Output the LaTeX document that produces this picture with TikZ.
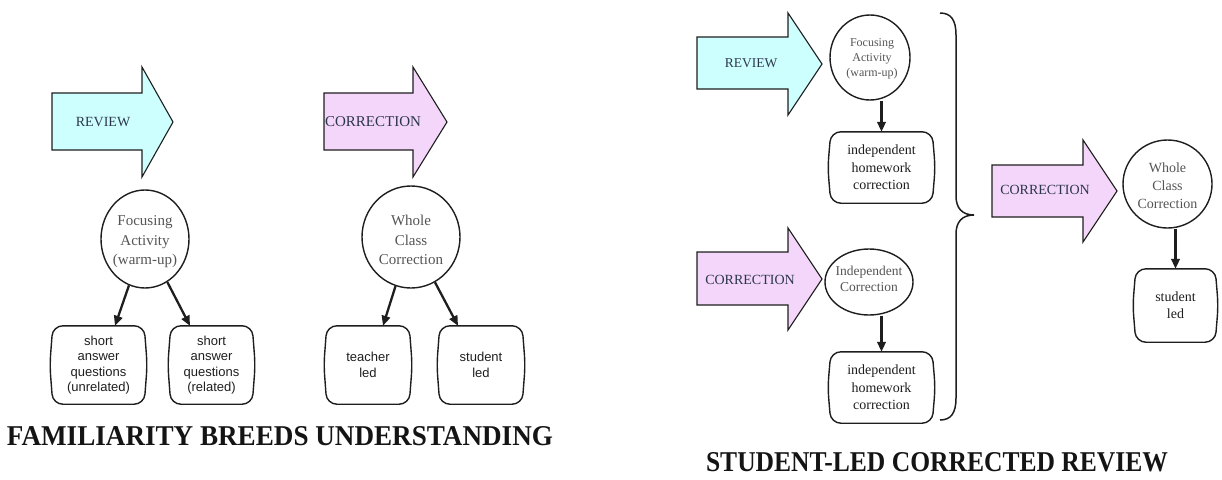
\documentclass[tikz,border=0pt]{standalone}
\usepackage{graphicx}
\usepackage{fontspec}
\setmainfont{Liberation Serif}
\newfontfamily\boxsans{Liberation Sans}
\newfontfamily\titlefont{Liberation Serif}
\usetikzlibrary{arrows.meta,shapes.geometric,calc}

\definecolor{revcyan}{RGB}{206,255,255}
\definecolor{corpink}{RGB}{243,214,250}
\definecolor{arrtext}{RGB}{45,55,75}
\definecolor{ink}{RGB}{30,30,30}
\definecolor{ctext}{RGB}{85,85,85}

\newcommand\blockarrow[8]{%
  \draw[bigarrow,fill=#8] (#1,#4) -- (#2,#4) -- (#2,#6) -- (#3,{(#6+#7)/2}) -- (#2,#7) -- (#2,#5) -- (#1,#5) -- cycle;}
\newcommand\bulgeoutline[1]{%
  \draw[outline] (#1.north west) -- (#1.north east) -- ([xshift=3pt]#1.east) -- (#1.south east) -- (#1.south west) -- ([xshift=-3pt]#1.west) -- cycle;}

\tikzset{
  bigarrow/.style={draw=ink,line width=1.1pt,line join=miter},
  arrlabel/.style={font=\fontsize{14}{16}\selectfont, text=arrtext, inner sep=0pt},
  oval/.style={draw=ink, line width=1.4pt, ellipse, inner sep=0pt, fill=white},
  ovaltext/.style={align=center, text=ctext, inner sep=0pt},
  boxnode/.style={inner sep=0pt, align=center, text=ink},
  outline/.style={draw=ink, line width=1.4pt, rounded corners=10pt},
  conn/.style={draw=ink, line width=2.3pt, -{Triangle[length=10pt,width=8.5pt]}},
  bigtitle/.style={inner sep=0pt, text=black!92},
}

\begin{document}
\begin{tikzpicture}[x=1pt,y=-1pt]
\useasboundingbox (0,0) rectangle (1222,479);

% ---------- left panel ----------
\blockarrow{52}{142}{173}{93}{150}{67}{177}{revcyan}
\node[arrlabel] (lrev) at (103,122) {REVIEW};
\blockarrow{324}{413}{447}{93}{150}{67}{177}{corpink}
\node[arrlabel,font=\fontsize{15}{17}\selectfont] (lcor) at (373,122) {CORRECTION};

\node[oval, minimum width=88pt, minimum height=98pt] (lfa) at (145,239) {};
\node[ovaltext, font=\fontsize{15}{19.5}\selectfont] (lfat) at (145,242) {Focusing\\Activity\\(warm-up)};
\node[oval, minimum width=98pt, minimum height=102pt] (lwc) at (411,237) {};
\node[ovaltext, font=\fontsize{15}{19.5}\selectfont] (lwct) at (411,240) {Whole\\Class\\Correction};

\node[boxnode, minimum width=91pt, minimum height=78pt, font=\boxsans\fontsize{13}{15.5}\selectfont] (lb1) at (98.5,365) {short\\answer\\questions\\(unrelated)};
\bulgeoutline{lb1}
\node[boxnode, minimum width=81pt, minimum height=78pt, font=\boxsans\fontsize{13}{15.5}\selectfont] (lb2) at (211.5,365) {short\\answer\\questions\\(related)};
\bulgeoutline{lb2}
\node[boxnode, minimum width=82pt, minimum height=78pt, font=\boxsans\fontsize{13}{16.5}\selectfont] (lb3) at (368,365) {teacher\\led};
\bulgeoutline{lb3}
\node[boxnode, minimum width=82pt, minimum height=78pt, font=\boxsans\fontsize{13}{16.5}\selectfont] (lb4) at (481,365) {student\\led};
\bulgeoutline{lb4}

\draw[conn] (lfa) -- ([xshift=16.5pt]lb1.north);
\draw[conn] (lfa) -- ([xshift=-21.5pt]lb2.north);
\draw[conn] (lwc) -- ([xshift=15pt]lb3.north);
\draw[conn] (lwc) -- ([xshift=-23pt]lb4.north);

\node[bigtitle] (ltitle) at (280,436) {\resizebox{546pt}{19pt}{\titlefont\bfseries FAMILIARITY BREEDS UNDERSTANDING}};

% ---------- right panel ----------
\blockarrow{697}{788}{822}{37}{89}{13}{115}{revcyan}
\node[arrlabel,font=\fontsize{13.5}{16}\selectfont] (rrev) at (751,63) {REVIEW};
\blockarrow{697}{788}{822}{252}{305}{228}{330}{corpink}
\node[arrlabel] (rcor1) at (750,280) {CORRECTION};
\blockarrow{992}{1083}{1117}{165}{217}{140}{242}{corpink}
\node[arrlabel] (rcor2) at (1045,190) {CORRECTION};

\node[oval, minimum width=80pt, minimum height=85pt] (rfa) at (870,57.5) {};
\node[ovaltext, font=\fontsize{12}{15}\selectfont] (rfat) at (872,59) {Focusing\\Activity\\(warm-up)};
\node[oval, minimum width=88pt, minimum height=66pt] (ric) at (869,282) {};
\node[ovaltext, font=\fontsize{13.5}{16}\selectfont] (rict) at (869,279) {Independent\\Correction};
\node[oval, minimum width=89pt, minimum height=88pt] (rwc) at (1167.5,184) {};
\node[ovaltext, font=\fontsize{14}{18}\selectfont] (rwct) at (1167.5,186) {Whole\\Class\\Correction};

\node[boxnode, minimum width=101pt, minimum height=71pt, font=\fontsize{14}{17.5}\selectfont] (rb1) at (881.5,167.5) {independent\\homework\\correction};
\bulgeoutline{rb1}
\node[boxnode, minimum width=101pt, minimum height=71pt, font=\fontsize{14}{17.5}\selectfont] (rb2) at (881.5,387.5) {independent\\homework\\correction};
\bulgeoutline{rb2}
\node[boxnode, minimum width=79pt, minimum height=73pt, font=\fontsize{14}{17}\selectfont] (rb3) at (1175.5,305.5) {student\\led};
\bulgeoutline{rb3}

\draw[conn] (rfa.south -| rb1.north) -- (rb1.north);
\draw[conn] (ric.south -| rb2.north) -- (rb2.north);
\draw[conn] (rwc.south -| rb3.north) -- (rb3.north);

% brace
\draw[ink, line width=1.5pt] (940,13) .. controls (951,13) and (956,20) .. (956,35)
  -- (956,196) .. controls (956,208) and (962,215) .. (974,215)
  .. controls (962,215) and (956,222) .. (956,234)
  -- (956,398) .. controls (956,413) and (951,420) .. (940,420);

\node[bigtitle] (rtitle) at (937,462.5) {\resizebox{462pt}{19pt}{\titlefont\bfseries STUDENT-LED CORRECTED REVIEW}};
\end{tikzpicture}
\end{document}
